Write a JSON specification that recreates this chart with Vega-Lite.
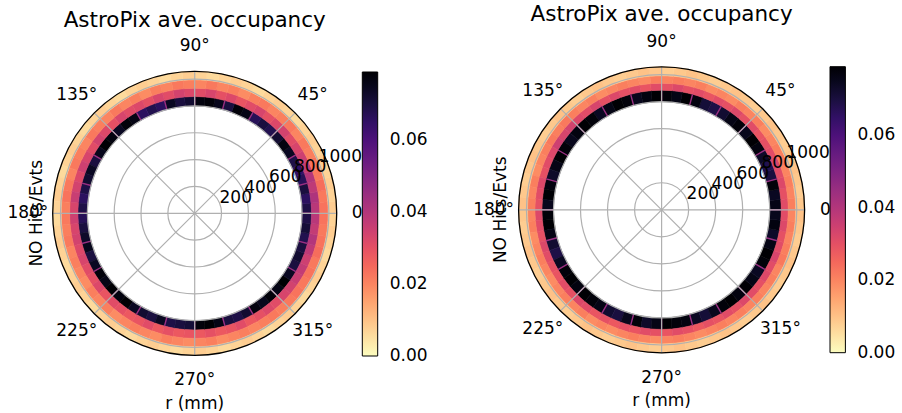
{
"$schema": "https://vega.github.io/schema/vega-lite/v6.json",
"width": 902, "height": 413, "autosize": {"type": "none"}, "padding": 0,
"config": {"view": {"stroke": null}, "font": "DejaVu Sans", "text": {"font": "DejaVu Sans", "color": "black"}},
"datasets": {
"rings": [{"key":"v1","r":800,"s":870},{"key":"v2","r":870,"s":932},{"key":"v3","r":932,"s":995},{"key":"v4","r":995,"s":1058}],
"ringsR": [{"key":"v1","r":800,"s":885},{"key":"v2","r":885,"s":937},{"key":"v3","r":937,"s":992},{"key":"v4","r":992,"s":1058}],
"L": [
{"a":0,"b":5,"v1":0.069,"v2":0.039,"v3":0.023,"v4":0.008},
{"a":5,"b":10,"v1":0.066,"v2":0.041,"v3":0.022,"v4":0.007},
{"a":10,"b":15,"v1":0.070,"v2":0.038,"v3":0.024,"v4":0.008},
{"a":15,"b":20,"v1":0.067,"v2":0.040,"v3":0.022,"v4":0.007},
{"a":20,"b":25,"v1":0.065,"v2":0.037,"v3":0.023,"v4":0.008},
{"a":25,"b":30,"v1":0.069,"v2":0.035,"v3":0.021,"v4":0.007},
{"a":30,"b":35,"v1":0.074,"v2":0.033,"v3":0.022,"v4":0.008},
{"a":35,"b":40,"v1":0.077,"v2":0.031,"v3":0.020,"v4":0.007},
{"a":40,"b":45,"v1":0.072,"v2":0.034,"v3":0.022,"v4":0.006},
{"a":45,"b":50,"v1":0.068,"v2":0.032,"v3":0.021,"v4":0.007},
{"a":50,"b":55,"v1":0.070,"v2":0.030,"v3":0.020,"v4":0.008},
{"a":55,"b":60,"v1":0.067,"v2":0.033,"v3":0.022,"v4":0.007},
{"a":60,"b":65,"v1":0.076,"v2":0.031,"v3":0.021,"v4":0.006},
{"a":65,"b":70,"v1":0.078,"v2":0.029,"v3":0.019,"v4":0.007},
{"a":70,"b":75,"v1":0.070,"v2":0.032,"v3":0.021,"v4":0.008},
{"a":75,"b":80,"v1":0.075,"v2":0.030,"v3":0.020,"v4":0.007},
{"a":80,"b":85,"v1":0.078,"v2":0.033,"v3":0.022,"v4":0.006},
{"a":85,"b":90,"v1":0.077,"v2":0.031,"v3":0.020,"v4":0.007},
{"a":90,"b":95,"v1":0.072,"v2":0.032,"v3":0.021,"v4":0.008},
{"a":95,"b":100,"v1":0.070,"v2":0.034,"v3":0.022,"v4":0.007},
{"a":100,"b":105,"v1":0.074,"v2":0.031,"v3":0.020,"v4":0.006},
{"a":105,"b":110,"v1":0.066,"v2":0.033,"v3":0.021,"v4":0.007},
{"a":110,"b":115,"v1":0.068,"v2":0.030,"v3":0.019,"v4":0.008},
{"a":115,"b":120,"v1":0.066,"v2":0.032,"v3":0.021,"v4":0.007},
{"a":120,"b":125,"v1":0.076,"v2":0.031,"v3":0.020,"v4":0.006},
{"a":125,"b":130,"v1":0.078,"v2":0.033,"v3":0.022,"v4":0.007},
{"a":130,"b":135,"v1":0.074,"v2":0.030,"v3":0.020,"v4":0.008},
{"a":135,"b":140,"v1":0.077,"v2":0.032,"v3":0.021,"v4":0.007},
{"a":140,"b":145,"v1":0.079,"v2":0.034,"v3":0.022,"v4":0.006},
{"a":145,"b":150,"v1":0.075,"v2":0.031,"v3":0.020,"v4":0.007},
{"a":150,"b":155,"v1":0.070,"v2":0.033,"v3":0.021,"v4":0.008},
{"a":155,"b":160,"v1":0.074,"v2":0.035,"v3":0.022,"v4":0.007},
{"a":160,"b":165,"v1":0.072,"v2":0.032,"v3":0.020,"v4":0.006},
{"a":165,"b":170,"v1":0.069,"v2":0.034,"v3":0.022,"v4":0.007},
{"a":170,"b":175,"v1":0.066,"v2":0.036,"v3":0.023,"v4":0.008},
{"a":175,"b":180,"v1":0.069,"v2":0.033,"v3":0.021,"v4":0.007},
{"a":180,"b":185,"v1":0.067,"v2":0.035,"v3":0.022,"v4":0.006},
{"a":185,"b":190,"v1":0.070,"v2":0.033,"v3":0.021,"v4":0.007},
{"a":190,"b":195,"v1":0.073,"v2":0.034,"v3":0.022,"v4":0.008},
{"a":195,"b":200,"v1":0.075,"v2":0.032,"v3":0.020,"v4":0.007},
{"a":200,"b":205,"v1":0.070,"v2":0.033,"v3":0.021,"v4":0.006},
{"a":205,"b":210,"v1":0.074,"v2":0.031,"v3":0.020,"v4":0.007},
{"a":210,"b":215,"v1":0.078,"v2":0.030,"v3":0.019,"v4":0.008},
{"a":215,"b":220,"v1":0.076,"v2":0.032,"v3":0.021,"v4":0.007},
{"a":220,"b":225,"v1":0.079,"v2":0.029,"v3":0.020,"v4":0.006},
{"a":225,"b":230,"v1":0.077,"v2":0.031,"v3":0.021,"v4":0.007},
{"a":230,"b":235,"v1":0.079,"v2":0.030,"v3":0.019,"v4":0.008},
{"a":235,"b":240,"v1":0.074,"v2":0.028,"v3":0.020,"v4":0.007},
{"a":240,"b":245,"v1":0.072,"v2":0.029,"v3":0.021,"v4":0.006},
{"a":245,"b":250,"v1":0.070,"v2":0.031,"v3":0.020,"v4":0.007},
{"a":250,"b":255,"v1":0.074,"v2":0.028,"v3":0.019,"v4":0.008},
{"a":255,"b":260,"v1":0.069,"v2":0.030,"v3":0.021,"v4":0.007},
{"a":260,"b":265,"v1":0.070,"v2":0.028,"v3":0.020,"v4":0.006},
{"a":265,"b":270,"v1":0.071,"v2":0.029,"v3":0.019,"v4":0.007},
{"a":270,"b":275,"v1":0.078,"v2":0.028,"v3":0.020,"v4":0.008},
{"a":275,"b":280,"v1":0.079,"v2":0.030,"v3":0.021,"v4":0.007},
{"a":280,"b":285,"v1":0.076,"v2":0.028,"v3":0.019,"v4":0.006},
{"a":285,"b":290,"v1":0.070,"v2":0.029,"v3":0.020,"v4":0.007},
{"a":290,"b":295,"v1":0.069,"v2":0.031,"v3":0.021,"v4":0.008},
{"a":295,"b":300,"v1":0.072,"v2":0.028,"v3":0.020,"v4":0.007},
{"a":300,"b":305,"v1":0.077,"v2":0.030,"v3":0.021,"v4":0.006},
{"a":305,"b":310,"v1":0.075,"v2":0.032,"v3":0.022,"v4":0.007},
{"a":310,"b":315,"v1":0.078,"v2":0.031,"v3":0.021,"v4":0.008},
{"a":315,"b":320,"v1":0.076,"v2":0.033,"v3":0.022,"v4":0.007},
{"a":320,"b":325,"v1":0.079,"v2":0.034,"v3":0.023,"v4":0.006},
{"a":325,"b":330,"v1":0.074,"v2":0.036,"v3":0.022,"v4":0.007},
{"a":330,"b":335,"v1":0.070,"v2":0.037,"v3":0.023,"v4":0.008},
{"a":335,"b":340,"v1":0.072,"v2":0.035,"v3":0.022,"v4":0.007},
{"a":340,"b":345,"v1":0.070,"v2":0.038,"v3":0.024,"v4":0.006},
{"a":345,"b":350,"v1":0.068,"v2":0.040,"v3":0.023,"v4":0.007},
{"a":350,"b":355,"v1":0.071,"v2":0.037,"v3":0.022,"v4":0.008},
{"a":355,"b":360,"v1":0.069,"v2":0.039,"v3":0.023,"v4":0.007}
],
"R": [
{"a":0,"b":5,"v1":0.076,"v2":0.031,"v3":0.021,"v4":0.009},
{"a":5,"b":10,"v1":0.074,"v2":0.030,"v3":0.020,"v4":0.008},
{"a":10,"b":15,"v1":0.078,"v2":0.032,"v3":0.021,"v4":0.009},
{"a":15,"b":20,"v1":0.070,"v2":0.031,"v3":0.020,"v4":0.010},
{"a":20,"b":25,"v1":0.068,"v2":0.033,"v3":0.022,"v4":0.009},
{"a":25,"b":30,"v1":0.073,"v2":0.031,"v3":0.021,"v4":0.008},
{"a":30,"b":35,"v1":0.077,"v2":0.030,"v3":0.020,"v4":0.009},
{"a":35,"b":40,"v1":0.079,"v2":0.029,"v3":0.019,"v4":0.010},
{"a":40,"b":45,"v1":0.075,"v2":0.031,"v3":0.021,"v4":0.009},
{"a":45,"b":50,"v1":0.078,"v2":0.030,"v3":0.020,"v4":0.008},
{"a":50,"b":55,"v1":0.076,"v2":0.032,"v3":0.021,"v4":0.009},
{"a":55,"b":60,"v1":0.072,"v2":0.030,"v3":0.019,"v4":0.010},
{"a":60,"b":65,"v1":0.069,"v2":0.031,"v3":0.020,"v4":0.009},
{"a":65,"b":70,"v1":0.071,"v2":0.029,"v3":0.019,"v4":0.008},
{"a":70,"b":75,"v1":0.077,"v2":0.031,"v3":0.021,"v4":0.009},
{"a":75,"b":80,"v1":0.079,"v2":0.030,"v3":0.020,"v4":0.010},
{"a":80,"b":85,"v1":0.076,"v2":0.032,"v3":0.021,"v4":0.009},
{"a":85,"b":90,"v1":0.078,"v2":0.030,"v3":0.020,"v4":0.008},
{"a":90,"b":95,"v1":0.079,"v2":0.031,"v3":0.021,"v4":0.009},
{"a":95,"b":100,"v1":0.077,"v2":0.029,"v3":0.019,"v4":0.010},
{"a":100,"b":105,"v1":0.075,"v2":0.031,"v3":0.020,"v4":0.009},
{"a":105,"b":110,"v1":0.078,"v2":0.030,"v3":0.021,"v4":0.008},
{"a":110,"b":115,"v1":0.079,"v2":0.032,"v3":0.020,"v4":0.009},
{"a":115,"b":120,"v1":0.076,"v2":0.030,"v3":0.019,"v4":0.010},
{"a":120,"b":125,"v1":0.074,"v2":0.033,"v3":0.021,"v4":0.009},
{"a":125,"b":130,"v1":0.078,"v2":0.031,"v3":0.020,"v4":0.008},
{"a":130,"b":135,"v1":0.079,"v2":0.032,"v3":0.021,"v4":0.009},
{"a":135,"b":140,"v1":0.077,"v2":0.034,"v3":0.022,"v4":0.010},
{"a":140,"b":145,"v1":0.075,"v2":0.033,"v3":0.021,"v4":0.009},
{"a":145,"b":150,"v1":0.078,"v2":0.035,"v3":0.022,"v4":0.008},
{"a":150,"b":155,"v1":0.079,"v2":0.032,"v3":0.021,"v4":0.009},
{"a":155,"b":160,"v1":0.076,"v2":0.031,"v3":0.020,"v4":0.010},
{"a":160,"b":165,"v1":0.073,"v2":0.030,"v3":0.019,"v4":0.009},
{"a":165,"b":170,"v1":0.077,"v2":0.032,"v3":0.021,"v4":0.008},
{"a":170,"b":175,"v1":0.079,"v2":0.031,"v3":0.020,"v4":0.009},
{"a":175,"b":180,"v1":0.075,"v2":0.030,"v3":0.021,"v4":0.010},
{"a":180,"b":185,"v1":0.078,"v2":0.032,"v3":0.020,"v4":0.009},
{"a":185,"b":190,"v1":0.079,"v2":0.031,"v3":0.021,"v4":0.008},
{"a":190,"b":195,"v1":0.076,"v2":0.030,"v3":0.019,"v4":0.009},
{"a":195,"b":200,"v1":0.072,"v2":0.032,"v3":0.020,"v4":0.010},
{"a":200,"b":205,"v1":0.069,"v2":0.031,"v3":0.021,"v4":0.009},
{"a":205,"b":210,"v1":0.074,"v2":0.030,"v3":0.020,"v4":0.008},
{"a":210,"b":215,"v1":0.078,"v2":0.029,"v3":0.019,"v4":0.009},
{"a":215,"b":220,"v1":0.079,"v2":0.031,"v3":0.020,"v4":0.010},
{"a":220,"b":225,"v1":0.077,"v2":0.030,"v3":0.021,"v4":0.009},
{"a":225,"b":230,"v1":0.079,"v2":0.032,"v3":0.020,"v4":0.008},
{"a":230,"b":235,"v1":0.078,"v2":0.031,"v3":0.021,"v4":0.009},
{"a":235,"b":240,"v1":0.076,"v2":0.029,"v3":0.019,"v4":0.010},
{"a":240,"b":245,"v1":0.072,"v2":0.030,"v3":0.020,"v4":0.009},
{"a":245,"b":250,"v1":0.070,"v2":0.028,"v3":0.019,"v4":0.008},
{"a":250,"b":255,"v1":0.075,"v2":0.030,"v3":0.020,"v4":0.009},
{"a":255,"b":260,"v1":0.078,"v2":0.029,"v3":0.021,"v4":0.010},
{"a":260,"b":265,"v1":0.073,"v2":0.031,"v3":0.020,"v4":0.009},
{"a":265,"b":270,"v1":0.076,"v2":0.030,"v3":0.019,"v4":0.008},
{"a":270,"b":275,"v1":0.079,"v2":0.029,"v3":0.020,"v4":0.009},
{"a":275,"b":280,"v1":0.078,"v2":0.031,"v3":0.021,"v4":0.010},
{"a":280,"b":285,"v1":0.077,"v2":0.030,"v3":0.020,"v4":0.009},
{"a":285,"b":290,"v1":0.074,"v2":0.028,"v3":0.019,"v4":0.008},
{"a":290,"b":295,"v1":0.071,"v2":0.030,"v3":0.020,"v4":0.009},
{"a":295,"b":300,"v1":0.075,"v2":0.029,"v3":0.021,"v4":0.010},
{"a":300,"b":305,"v1":0.078,"v2":0.031,"v3":0.020,"v4":0.009},
{"a":305,"b":310,"v1":0.079,"v2":0.030,"v3":0.021,"v4":0.008},
{"a":310,"b":315,"v1":0.077,"v2":0.032,"v3":0.020,"v4":0.009},
{"a":315,"b":320,"v1":0.079,"v2":0.031,"v3":0.021,"v4":0.010},
{"a":320,"b":325,"v1":0.076,"v2":0.030,"v3":0.020,"v4":0.009},
{"a":325,"b":330,"v1":0.074,"v2":0.032,"v3":0.021,"v4":0.008},
{"a":330,"b":335,"v1":0.078,"v2":0.031,"v3":0.020,"v4":0.009},
{"a":335,"b":340,"v1":0.079,"v2":0.033,"v3":0.022,"v4":0.010},
{"a":340,"b":345,"v1":0.076,"v2":0.031,"v3":0.021,"v4":0.009},
{"a":345,"b":350,"v1":0.073,"v2":0.030,"v3":0.020,"v4":0.008},
{"a":350,"b":355,"v1":0.077,"v2":0.032,"v3":0.021,"v4":0.009},
{"a":355,"b":360,"v1":0.075,"v2":0.031,"v3":0.020,"v4":0.010}
],
"sep": [{"a":0,"v":0.045},{"a":15,"v":0.045},{"a":30,"v":0.045},{"a":45,"v":0.045},{"a":60,"v":0.045},{"a":75,"v":0.045},{"a":90,"v":0.045},{"a":105,"v":0.045},{"a":120,"v":0.045},{"a":135,"v":0.045},{"a":150,"v":0.045},{"a":165,"v":0.045},{"a":180,"v":0.045},{"a":195,"v":0.045},{"a":210,"v":0.045},{"a":225,"v":0.045},{"a":240,"v":0.045},{"a":255,"v":0.045},{"a":270,"v":0.045},{"a":285,"v":0.045},{"a":300,"v":0.045},{"a":315,"v":0.045},{"a":330,"v":0.045},{"a":345,"v":0.045}],
"grid": [{"r":200},{"r":400},{"r":600},{"r":800},{"r":1000}],
"spokes": [{"a":0},{"a":45},{"a":90},{"a":135},{"a":180},{"a":225},{"a":270},{"a":315}],
"alab": [{"a":0,"t":"0°"},{"a":45,"t":"45°"},{"a":90,"t":"90°"},{"a":135,"t":"135°"},{"a":180,"t":"180°"},{"a":225,"t":"225°"},{"a":270,"t":"270°"},{"a":315,"t":"315°"}],
"rlab": [{"r":200,"t":"200"},{"r":400,"t":"400"},{"r":600,"t":"600"},{"r":800,"t":"800"},{"r":1000,"t":"1000"}]
},
"resolve": {"scale": {"radius": "independent", "color": "independent"}},
"layer": [
{
"encoding": {
 "x": {"datum": 0, "type": "quantitative", "scale": {"domain": [0, 1], "range": [194.7, 661.6], "nice": false, "zero": false}, "axis": null},
 "y": {"datum": 0, "type": "quantitative", "scale": {"domain": [0, 1], "range": [213.3, 209.8], "nice": false, "zero": false}, "axis": null}
},
"layer": [
 {"data": {"name": "L"},
  "transform": [{"fold": ["v1","v2","v3","v4"], "as": ["key","v"]}, {"lookup": "key", "from": {"data": {"name": "rings"}, "key": "key", "fields": ["r","s"]}}],
  "mark": {"type": "arc", "strokeWidth": 0.6},
  "encoding": {
   "theta": {"field": "a", "type": "quantitative", "stack": null, "scale": {"domain": [0, 360], "range": [1.5708, -4.7124], "nice": false, "zero": false}},
   "theta2": {"field": "b"},
   "radius": {"field": "s", "type": "quantitative", "stack": null, "scale": {"type": "linear", "domain": [0, 1058], "range": [0, 142], "nice": false, "zero": true}},
   "radius2": {"field": "r"},
   "color": {"field": "v", "type": "quantitative", "scale": {"domain": [0, 0.079], "scheme": {"name": "magma", "extent": [1, 0]}, "nice": false, "zero": false},
     "legend": {"type": "gradient", "orient": "none", "legendX": 362.3, "legendY": 72, "direction": "vertical", "gradientLength": 284, "gradientThickness": 15.4, "title": null, "values": [0, 0.02, 0.04, 0.06], "format": ".2f", "labelFont": "DejaVu Sans", "labelFontSize": 17, "labelColor": "black", "labelOffset": 12, "labelBaseline": "middle", "gradientStrokeColor": "black", "gradientStrokeWidth": 1, "padding": 0, "labelOverlap": false,
       "encode": {"labels": {"update": {"baseline": {"value": "middle"}}}}}},
   "stroke": {"field": "v", "type": "quantitative", "scale": {"domain": [0, 0.079], "scheme": {"name": "magma", "extent": [1, 0]}, "nice": false, "zero": false}, "legend": null}
  }},
 {"data": {"name": "sep"},
  "mark": {"type": "arc", "filled": false, "strokeWidth": 1.4},
  "encoding": {
   "theta": {"field": "a", "type": "quantitative", "stack": null},
   "theta2": {"field": "a"},
   "radius": {"datum": 870},
   "radius2": {"datum": 800},
   "stroke": {"field": "v", "type": "quantitative", "legend": null}
  }},
 {"data": {"name": "grid"},
  "mark": {"type": "arc", "filled": false, "stroke": "#b0b0b0", "strokeWidth": 1.2},
  "encoding": {"theta": {"datum": 0}, "theta2": {"datum": 360}, "radius": {"field": "r", "type": "quantitative", "stack": null}}},
 {"data": {"name": "spokes"},
  "mark": {"type": "arc", "filled": false, "stroke": "#b0b0b0", "strokeWidth": 1.2},
  "encoding": {"theta": {"field": "a", "type": "quantitative", "stack": null}, "theta2": {"field": "a"}, "radius": {"datum": 1058}}},
 {"data": {"values": [{}]},
  "mark": {"type": "arc", "filled": false, "stroke": "black", "strokeWidth": 1.3},
  "encoding": {"theta": {"datum": 0}, "theta2": {"datum": 360}, "radius": {"datum": 1058}}},
 {"data": {"name": "alab"},
  "mark": {"type": "text", "fontSize": 17, "align": "center", "baseline": "middle", "color": "black"},
  "encoding": {"theta": {"field": "a", "type": "quantitative", "stack": null}, "radius": {"datum": 1243}, "text": {"field": "t"}}},
 {"data": {"name": "rlab"},
  "mark": {"type": "text", "fontSize": 17, "align": "left", "baseline": "alphabetic", "color": "black"},
  "encoding": {"theta": {"datum": 22.5}, "radius": {"field": "r", "type": "quantitative", "stack": null}, "text": {"field": "t"}}},
 {"data": {"values": [{"t": "AstroPix ave. occupancy"}]},
  "mark": {"type": "text", "fontSize": 21.5, "align": "center", "baseline": "middle", "color": "black"},
  "encoding": {"theta": {"datum": 90}, "radius": {"datum": 1435}, "text": {"field": "t"}}},
 {"data": {"values": [{"t": "r (mm)"}]},
  "mark": {"type": "text", "fontSize": 17, "align": "center", "baseline": "middle", "color": "black"},
  "encoding": {"theta": {"datum": 270}, "radius": {"datum": 1421}, "text": {"field": "t"}}},
 {"data": {"values": [{"t": "NO Hits/Evts"}]},
  "mark": {"type": "text", "fontSize": 17, "align": "center", "baseline": "middle", "angle": 270, "color": "black"},
  "encoding": {"theta": {"datum": 180}, "radius": {"datum": 1175}, "text": {"field": "t"}}}
]
},
{
"encoding": {
 "x": {"datum": 1, "type": "quantitative", "scale": {"domain": [0, 1], "range": [194.7, 661.6], "nice": false, "zero": false}, "axis": null},
 "y": {"datum": 1, "type": "quantitative", "scale": {"domain": [0, 1], "range": [213.3, 209.8], "nice": false, "zero": false}, "axis": null}
},
"layer": [
 {"data": {"name": "R"},
  "transform": [{"fold": ["v1","v2","v3","v4"], "as": ["key","v"]}, {"lookup": "key", "from": {"data": {"name": "ringsR"}, "key": "key", "fields": ["r","s"]}}],
  "mark": {"type": "arc", "strokeWidth": 0.6},
  "encoding": {
   "theta": {"field": "a", "type": "quantitative", "stack": null, "scale": {"domain": [0, 360], "range": [1.5708, -4.7124], "nice": false, "zero": false}},
   "theta2": {"field": "b"},
   "radius": {"field": "s", "type": "quantitative", "stack": null, "scale": {"type": "linear", "domain": [0, 1058], "range": [0, 143], "nice": false, "zero": true}},
   "radius2": {"field": "r"},
   "color": {"field": "v", "type": "quantitative", "scale": {"domain": [0, 0.079], "scheme": {"name": "magma", "extent": [1, 0]}, "nice": false, "zero": false},
     "legend": {"type": "gradient", "orient": "none", "legendX": 830, "legendY": 66.7, "direction": "vertical", "gradientLength": 286, "gradientThickness": 15.4, "title": null, "values": [0, 0.02, 0.04, 0.06], "format": ".2f", "labelFont": "DejaVu Sans", "labelFontSize": 17, "labelColor": "black", "labelOffset": 12, "labelBaseline": "middle", "gradientStrokeColor": "black", "gradientStrokeWidth": 1, "padding": 0, "labelOverlap": false,
       "encode": {"labels": {"update": {"baseline": {"value": "middle"}}}}}},
   "stroke": {"field": "v", "type": "quantitative", "scale": {"domain": [0, 0.079], "scheme": {"name": "magma", "extent": [1, 0]}, "nice": false, "zero": false}, "legend": null}
  }},
 {"data": {"name": "sep"},
  "mark": {"type": "arc", "filled": false, "strokeWidth": 1.4},
  "encoding": {
   "theta": {"field": "a", "type": "quantitative", "stack": null},
   "theta2": {"field": "a"},
   "radius": {"datum": 885},
   "radius2": {"datum": 800},
   "stroke": {"field": "v", "type": "quantitative", "legend": null}
  }},
 {"data": {"name": "grid"},
  "mark": {"type": "arc", "filled": false, "stroke": "#b0b0b0", "strokeWidth": 1.2},
  "encoding": {"theta": {"datum": 0}, "theta2": {"datum": 360}, "radius": {"field": "r", "type": "quantitative", "stack": null}}},
 {"data": {"name": "spokes"},
  "mark": {"type": "arc", "filled": false, "stroke": "#b0b0b0", "strokeWidth": 1.2},
  "encoding": {"theta": {"field": "a", "type": "quantitative", "stack": null}, "theta2": {"field": "a"}, "radius": {"datum": 1058}}},
 {"data": {"values": [{}]},
  "mark": {"type": "arc", "filled": false, "stroke": "black", "strokeWidth": 1.3},
  "encoding": {"theta": {"datum": 0}, "theta2": {"datum": 360}, "radius": {"datum": 1058}}},
 {"data": {"name": "alab"},
  "mark": {"type": "text", "fontSize": 17, "align": "center", "baseline": "middle", "color": "black"},
  "encoding": {"theta": {"field": "a", "type": "quantitative", "stack": null}, "radius": {"datum": 1243}, "text": {"field": "t"}}},
 {"data": {"name": "rlab"},
  "mark": {"type": "text", "fontSize": 17, "align": "left", "baseline": "alphabetic", "color": "black"},
  "encoding": {"theta": {"datum": 22.5}, "radius": {"field": "r", "type": "quantitative", "stack": null}, "text": {"field": "t"}}},
 {"data": {"values": [{"t": "AstroPix ave. occupancy"}]},
  "mark": {"type": "text", "fontSize": 21.5, "align": "center", "baseline": "middle", "color": "black"},
  "encoding": {"theta": {"datum": 90}, "radius": {"datum": 1441}, "text": {"field": "t"}}},
 {"data": {"values": [{"t": "r (mm)"}]},
  "mark": {"type": "text", "fontSize": 17, "align": "center", "baseline": "middle", "color": "black"},
  "encoding": {"theta": {"datum": 270}, "radius": {"datum": 1418}, "text": {"field": "t"}}},
 {"data": {"values": [{"t": "NO Hits/Evts"}]},
  "mark": {"type": "text", "fontSize": 17, "align": "center", "baseline": "middle", "angle": 270, "color": "black"},
  "encoding": {"theta": {"datum": 180}, "radius": {"datum": 1190}, "text": {"field": "t"}}}
]
}
]
}
